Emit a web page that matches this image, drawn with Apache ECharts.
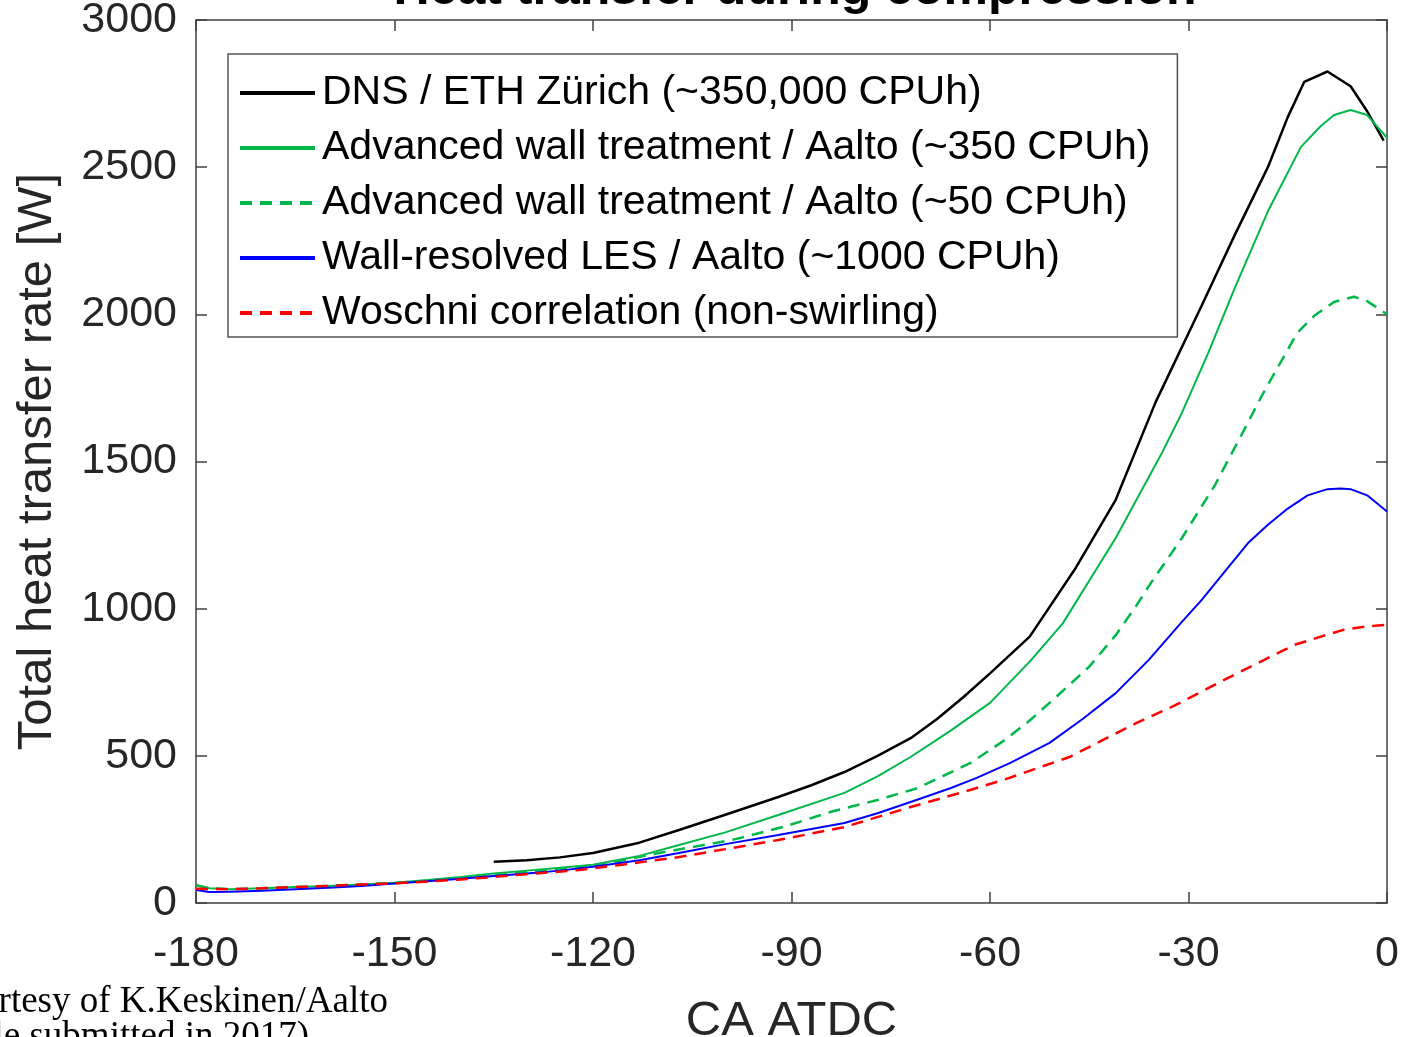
<!DOCTYPE html>
<html>
<head>
<meta charset="utf-8">
<title>Heat transfer during compression</title>
<script src="https://cdn.jsdelivr.net/npm/echarts@6/dist/echarts.min.js"></script>
<style>
  html, body { margin: 0; padding: 0; background: #fff; }
  #chart { width: 1402px; height: 1037px; }
</style>
</head>
<body>
<div id="chart"></div>
<script>
// axis ticks
const xTicks = { min: -180, max: 0, step: 30 };
const yTicks = { min: 0, max: 3000, step: 500 };

// series names (legend order)
const names = [
  'DNS / ETH Zürich (~350,000 CPUh)',
  'Advanced wall treatment / Aalto (~350 CPUh)',
  'Advanced wall treatment / Aalto (~50 CPUh)',
  'Wall-resolved LES / Aalto (~1000 CPUh)',
  'Woschni correlation (non-swirling)'
];

// DNS / ETH
const dnsCA = [-135, -130, -125, -120, -113, -107, -100, -92, -87, -82, -77, -72, -68, -64, -60, -54, -47, -41, -35, -28, -23, -18, -15, -12.5, -9, -5.5, -3, -0.5];
const dnsQ  = [140, 145, 155, 170, 205, 248, 300, 360, 400, 445, 500, 560, 625, 700, 780, 905, 1140, 1370, 1700, 2030, 2270, 2500, 2670, 2790, 2825, 2775, 2690, 2590];

// advanced wall treatment, 350 CPUh
const awt350CA = [-180, -178, -175, -170, -165, -160, -155, -150, -145, -140, -135, -130, -125, -120, -113, -107, -100, -92, -82, -77, -72, -66, -60, -54, -49, -41, -34, -31, -27, -23, -18, -13, -10, -8, -5.5, -3, 0];
const awt350Q  = [61, 50, 47, 50, 54, 58, 63, 69, 78, 88, 100, 110, 120, 130, 160, 197, 240, 299, 374, 430, 496, 585, 680, 820, 950, 1240, 1530, 1665, 1870, 2090, 2350, 2569, 2640, 2677, 2694, 2677, 2600];

// advanced wall treatment, 50 CPUh
const awt50CA = [-180, -178, -175, -170, -165, -160, -155, -150, -145, -140, -135, -130, -125, -120, -110, -99, -91, -84, -77, -71, -63, -58, -54, -50, -45, -41, -38, -35.6, -31, -26, -22, -19, -16, -13.6, -11, -8, -5, -3, 0];
const awt50Q  = [60, 50, 47, 50, 54, 58, 63, 68, 76, 85, 96, 105, 115, 125, 170, 214, 260, 310, 350, 390, 475, 550, 620, 700, 803, 910, 1006, 1090, 1240, 1420, 1590, 1720, 1840, 1936, 1995, 2042, 2060, 2045, 2000];

// wall-resolved LES
const lesCA = [-180, -178, -175, -170, -165, -160, -155, -150, -145, -140, -135, -130, -125, -120, -113, -107, -100, -92, -82, -77, -72, -66, -62, -57, -51, -46, -41, -36, -31, -28, -24, -21, -18, -15, -12, -9, -7, -5.5, -3, 0];
const lesQ  = [44, 37, 38, 42, 47, 52, 58, 66, 74, 82, 92, 100, 110, 123, 145, 170, 200, 231, 272, 305, 343, 390, 425, 475, 544, 625, 713, 826, 955, 1030, 1140, 1223, 1285, 1340, 1385, 1406, 1408, 1406, 1385, 1330];

// Woschni
const woschniCA = [-180, -175, -170, -165, -160, -155, -150, -145, -140, -137, -130, -122, -115, -107, -100, -92, -82, -72, -63, -58, -48, -38, -32, -24, -19, -14, -10, -6.6, -3, 0];
const woschniQ  = [48, 47, 50, 54, 58, 63, 67, 73, 80, 85, 98, 112, 132, 156, 183, 214, 258, 326, 384, 418, 496, 610, 672, 765, 821, 877, 905, 928, 940, 945];

const pairs = (xs, ys) => xs.map((x, i) => [x, ys[i]]);

const axisColor = '#404040';
const labelFont = 'Liberation Sans, Arial, sans-serif';
const serifFont = '"Liberation Serif", "Times New Roman", serif';

function makeLine(name, data, color, width, dashed) {
  return {
    name: name,
    type: 'line',
    data: data,
    symbol: 'none',
    smooth: false,
    silent: true,
    lineStyle: { color: color, width: width, type: dashed ? [12, 8] : 'solid' },
    itemStyle: { color: color }
  };
}

function frameAxis(extra) {
  return Object.assign({
    type: 'value',
    axisLine: { show: true, onZero: false, lineStyle: { color: axisColor, width: 1.5 } },
    axisTick: { show: true, inside: true, length: 11, lineStyle: { color: axisColor, width: 1.5 } },
    splitLine: { show: false }
  }, extra);
}

const chart = echarts.init(document.getElementById('chart'));
chart.setOption({
  backgroundColor: '#fff',
  animation: false,
  title: {
    text: 'Heat transfer during compression',
    left: 790,
    textAlign: 'center',
    top: -40,
    textStyle: { fontFamily: labelFont, fontSize: 50, fontWeight: 'bold', color: '#000' }
  },
  grid: { left: 196, right: 15, top: 20, bottom: 134, containLabel: false, outerBoundsMode: 'none' },
  legend: {
    orient: 'vertical',
    left: 228,
    top: 54,
    padding: [18, 27, 3, 10],
    itemGap: 13,
    itemWidth: 75,
    itemHeight: 20,
    backgroundColor: '#fff',
    borderColor: '#555',
    borderWidth: 1.5,
    borderRadius: 0,
    lineStyle: { width: 4 },
    itemStyle: { opacity: 0 },
    textStyle: { fontFamily: labelFont, fontSize: 41, color: '#000', lineHeight: 42, padding: [0, 0, 0, 2] },
    data: names
  },
  xAxis: [
    frameAxis({
      min: xTicks.min, max: xTicks.max, interval: xTicks.step,
      name: 'CA ATDC',
      nameLocation: 'middle',
      nameGap: 94,
      nameTextStyle: { fontFamily: labelFont, fontSize: 49, color: '#262626' },
      axisLabel: { fontFamily: labelFont, fontSize: 43, color: '#262626', margin: 30 }
    }),
    frameAxis({
      position: 'top',
      min: xTicks.min, max: xTicks.max, interval: xTicks.step,
      axisLabel: { show: false }
    })
  ],
  yAxis: [
    frameAxis({
      min: yTicks.min, max: yTicks.max, interval: yTicks.step,
      name: 'Total heat transfer rate [W]',
      nameLocation: 'middle',
      nameGap: 134,
      nameTextStyle: { fontFamily: labelFont, fontSize: 49, color: '#262626' },
      axisLabel: { fontFamily: labelFont, fontSize: 43, color: '#262626', margin: 19, formatter: (v) => String(v) }
    }),
    frameAxis({
      position: 'right',
      min: yTicks.min, max: yTicks.max, interval: yTicks.step,
      axisLabel: { show: false }
    })
  ],
  graphic: [{
    type: 'text',
    x: 388,
    y: 984,
    silent: true,
    style: { text: 'Courtesy of K.Keskinen/Aalto', font: '37px ' + serifFont, fill: '#000', align: 'right', verticalAlign: 'top' }
  }, {
    type: 'text',
    x: 309,
    y: 1019,
    silent: true,
    style: { text: '(Article submitted in 2017)', font: '37px ' + serifFont, fill: '#000', align: 'right', verticalAlign: 'top' }
  }],
  series: [
    makeLine(names[0], pairs(dnsCA, dnsQ), '#000000', 2.5, false),
    makeLine(names[1], pairs(awt350CA, awt350Q), '#00b84a', 2, false),
    makeLine(names[2], pairs(awt50CA, awt50Q), '#00b84a', 2.5, true),
    makeLine(names[3], pairs(lesCA, lesQ), '#0000ff', 2, false),
    makeLine(names[4], pairs(woschniCA, woschniQ), '#ff0000', 2.5, true)
  ]
});
</script>
</body>
</html>
